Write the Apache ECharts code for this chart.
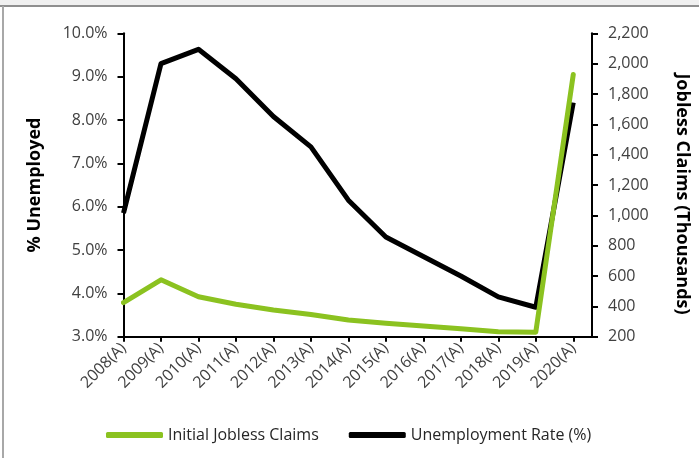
<!DOCTYPE html>
<html>
<head>
<meta charset="utf-8">
<script src="https://cdn.jsdelivr.net/npm/echarts@6/dist/echarts.min.js"></script>
<style>
html,body{margin:0;padding:0;background:#fff;}
#chart{width:699px;height:458px;}
</style>
</head>
<body>
<div id="chart"></div>
<script>
var categories = ['2008(A)','2009(A)','2010(A)','2011(A)','2012(A)','2013(A)','2014(A)','2015(A)','2016(A)','2017(A)','2018(A)','2019(A)','2020(A)'];
var unemploymentRate = [5.85, 9.3, 9.63, 8.95, 8.08, 7.38, 6.15, 5.3, 4.85, 4.4, 3.92, 3.68, 8.4];
var joblessClaims = [424, 575, 463, 414, 376, 346, 310, 288, 270, 252, 232, 230, 1928];
var leftTicks = {min: 3, max: 10, interval: 1};
var rightTicks = {min: 200, max: 2200, interval: 200};

var FONT = '"Open Sans", sans-serif';
var chart = echarts.init(document.getElementById('chart'), null, {renderer: 'canvas'});

function pairs(arr){ return arr.map(function(v,i){ return [i, v]; }); }
var catIndex = categories.map(function(c,i){ return i; });

var option = {
  backgroundColor: '#ffffff',
  animation: false,
  textStyle: {fontFamily: FONT},
  graphic: [
    {type: 'rect', left: 0, top: 0, shape: {width: 699, height: 5}, style: {fill: '#f0f0f0'}, silent: true},
    {type: 'rect', left: 0, top: 5, shape: {width: 699, height: 2}, style: {fill: '#8f8f8f'}, silent: true},
    {type: 'rect', left: 2, top: 6, shape: {width: 2, height: 452}, style: {fill: '#a8a8a8'}, silent: true}
  ],
  grid: {left: 123.5, top: 33.3, width: 469.8, height: 303.4, containLabel: false},
  legend: {
    left: 101, top: 422,
    itemWidth: 57, itemHeight: 6, itemGap: 30,
    icon: 'roundRect',
    textStyle: {fontFamily: FONT, fontSize: 16, color: '#262626'},
    data: ['Initial Jobless Claims', 'Unemployment Rate (%)']
  },
  xAxis: {
    type: 'value',
    min: 0, max: 12.5, interval: 1,
    axisLine: {show: true, lineStyle: {color: '#000', width: 2}},
    axisTick: {show: true, length: 5, customValues: catIndex, lineStyle: {color: '#000', width: 2}},
    splitLine: {show: false},
    axisLabel: {
      rotate: 45, margin: 9, fontFamily: FONT, fontSize: 16, color: '#404040',
      customValues: catIndex,
      formatter: function(v){ return categories[Math.round(v)] || ''; }
    }
  },
  yAxis: [
    {
      type: 'value', position: 'left',
      min: leftTicks.min, max: leftTicks.max, interval: leftTicks.interval,
      name: '% Unemployed', nameLocation: 'middle', nameGap: 80, nameRotate: 90,
      nameTextStyle: {fontFamily: FONT, fontSize: 18, fontWeight: 'bold', color: '#000'},
      axisLine: {show: true, lineStyle: {color: '#000', width: 2}},
      axisTick: {show: true, length: 6, lineStyle: {color: '#000', width: 2}},
      splitLine: {show: false},
      axisLabel: {margin: 16, fontFamily: FONT, fontSize: 16, color: '#404040',
        formatter: function(v){ return v.toFixed(1) + '%'; }}
    },
    {
      type: 'value', position: 'right',
      min: rightTicks.min, max: rightTicks.max, interval: rightTicks.interval,
      name: 'Jobless Claims (Thousands)', nameLocation: 'middle', nameGap: 81, nameRotate: -90,
      nameTextStyle: {fontFamily: FONT, fontSize: 18, fontWeight: 'bold', color: '#000', padding: [0, 0, 0, 18]},
      axisLine: {show: true, lineStyle: {color: '#000', width: 2}},
      axisTick: {show: true, length: 6, lineStyle: {color: '#000', width: 2}},
      splitLine: {show: false},
      axisLabel: {margin: 16, fontFamily: FONT, fontSize: 16, color: '#404040',
        formatter: function(v){ return v.toLocaleString('en-US'); }}
    }
  ],
  series: [
    {
      name: 'Unemployment Rate (%)', type: 'line', yAxisIndex: 0,
      data: pairs(unemploymentRate), symbol: 'none', smooth: false,
      lineStyle: {color: '#000000', width: 5, join: 'round'},
      itemStyle: {color: '#000000'}, z: 2
    },
    {
      name: 'Initial Jobless Claims', type: 'line', yAxisIndex: 1,
      data: pairs(joblessClaims), symbol: 'none', smooth: false,
      lineStyle: {color: '#8BC220', width: 5, join: 'round', cap: 'round'},
      itemStyle: {color: '#8BC220'}, z: 3
    }
  ]
};
chart.setOption(option);
</script>
</body>
</html>
